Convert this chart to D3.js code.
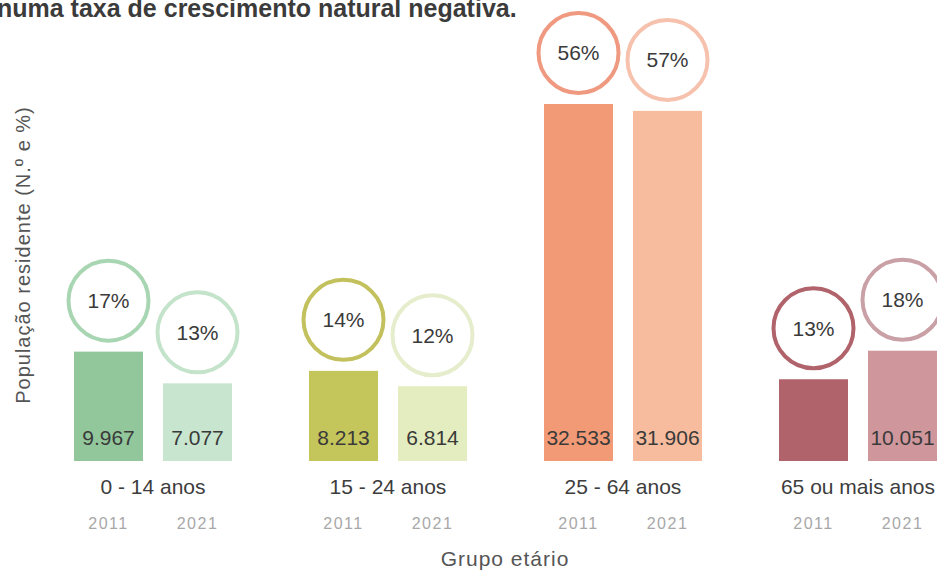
<!DOCTYPE html>
<html>
<head>
<meta charset="utf-8">
<script src="https://cdn.jsdelivr.net/npm/d3@7"></script>
<style>
  html, body { margin: 0; padding: 0; background: #fff; overflow: hidden; }
  svg { display: block; font-family: "Liberation Sans", Arial, sans-serif; }
</style>
</head>
<body>
<svg id="chart" width="937" height="571"></svg>
<script>
"use strict";

// age groups, years and values (population, percentage of total)
const groups = ["0 - 14 anos", "15 - 24 anos", "25 - 64 anos", "65 ou mais anos"];
const years = ["2011", "2021"];
const pop2011 = [9967, 8213, 32533, 7450];
const pop2021 = [7077, 6814, 31906, 10051];
const pct2011 = [17, 14, 56, 13];
const pct2021 = [13, 12, 57, 18];
// the 2011 label of the oldest group is not printed in the source
const label2011 = ["9.967", "8.213", "32.533", ""];
const label2021 = ["7.077", "6.814", "31.906", "10.051"];

const barColors = [
  ["#92c79c", "#c8e6cf"],
  ["#c4c55a", "#e4edbf"],
  ["#f29a76", "#f7bc9e"],
  ["#b1636b", "#cf979c"],
];
const ringColors = [
  ["#a9d6b2", "#c3e3ca"],
  ["#c2c15e", "#e6edcc"],
  ["#ef9a80", "#f6c2ad"],
  ["#b1636b", "#c9a0a5"],
];

const rows = groups.flatMap((g, i) => [
  { group: g, gi: i, year: years[0], yi: 0, value: pop2011[i], pct: pct2011[i], label: label2011[i] },
  { group: g, gi: i, year: years[1], yi: 1, value: pop2021[i], pct: pct2021[i], label: label2021[i] },
]);

const svg = d3.select("#chart");
const baseline = 461;

// 4 groups, 235px apart, each 158px wide (two 69px bars + 20px gap)
const x0 = d3.scaleBand().domain(groups).range([74, 937]).paddingInner(77 / 235).paddingOuter(0);
const x1 = d3.scaleBand().domain(years).range([0, x0.bandwidth()]).paddingInner(20 / 89).paddingOuter(0);
const y = d3.scaleLinear().domain([0, 32533]).range([baseline, 104]);

// title line, cut by the top edge
svg.append("text")
  .attr("x", -3).attr("y", 17)
  .attr("font-size", 25).attr("font-weight", "bold").attr("fill", "#3b3b3b")
  .text("numa taxa de crescimento natural negativa.");

// y axis title
svg.append("text")
  .attr("transform", "translate(30,255) rotate(-90)")
  .attr("text-anchor", "middle")
  .attr("font-size", 20).attr("letter-spacing", 1).attr("fill", "#555")
  .text("População residente (N.º e %)");

const g = svg.append("g");

const bar = g.selectAll("g.bar").data(rows).enter().append("g")
  .attr("class", "bar")
  .attr("transform", (d) => `translate(${x0(d.group) + x1(d.year)},0)`);

bar.append("rect")
  .attr("y", (d) => y(d.value))
  .attr("width", x1.bandwidth())
  .attr("height", (d) => baseline - y(d.value))
  .attr("fill", (d) => barColors[d.gi][d.yi]);

bar.append("text")
  .attr("x", x1.bandwidth() / 2).attr("y", 445)
  .attr("text-anchor", "middle")
  .attr("font-size", 21).attr("fill", "#3a3a3a")
  .text((d) => d.label);

// percentage rings above each bar
const R = 40;
bar.append("circle")
  .attr("cx", x1.bandwidth() / 2)
  .attr("cy", (d) => y(d.value) - 51)
  .attr("r", R)
  .attr("fill", "#fff")
  .attr("stroke", (d) => ringColors[d.gi][d.yi])
  .attr("stroke-width", 4);

bar.append("text")
  .attr("x", x1.bandwidth() / 2)
  .attr("y", (d) => y(d.value) - 51)
  .attr("dy", "0.35em")
  .attr("text-anchor", "middle")
  .attr("font-size", 21).attr("fill", "#3a3a3a")
  .text((d) => d.pct + "%");

// year ticks
bar.append("text")
  .attr("x", x1.bandwidth() / 2).attr("y", 529)
  .attr("text-anchor", "middle")
  .attr("font-size", 16).attr("letter-spacing", 1.5).attr("fill", "#a8a8a8")
  .text((d) => d.year);

// group labels
svg.append("g").selectAll("text").data(groups).enter().append("text")
  .attr("x", (d) => x0(d) + x0.bandwidth() / 2)
  .attr("y", 494)
  .attr("text-anchor", "middle")
  .attr("font-size", 21).attr("fill", "#3d3d3d")
  .text((d) => d);

// x axis title
svg.append("text")
  .attr("x", 505).attr("y", 566)
  .attr("text-anchor", "middle")
  .attr("font-size", 21).attr("letter-spacing", 1).attr("fill", "#555")
  .text("Grupo etário");
</script>
</body>
</html>
